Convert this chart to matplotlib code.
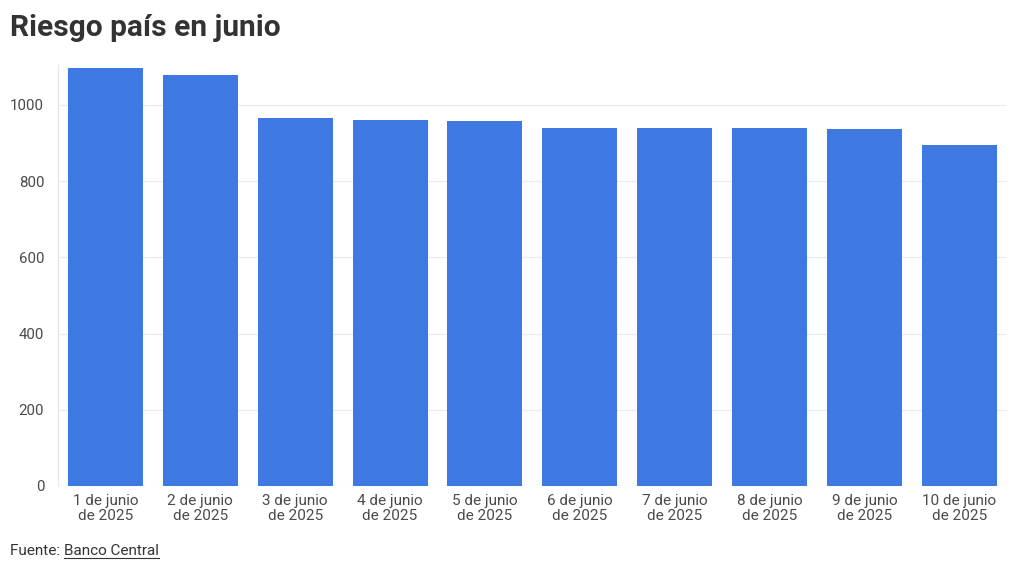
# Riesgo país en junio - bar chart
import matplotlib
matplotlib.use('Agg')
import matplotlib.pyplot as plt
from matplotlib.lines import Line2D

# Data
dates = ['1 de junio\nde 2025', '2 de junio\nde 2025', '3 de junio\nde 2025',
         '4 de junio\nde 2025', '5 de junio\nde 2025', '6 de junio\nde 2025',
         '7 de junio\nde 2025', '8 de junio\nde 2025', '9 de junio\nde 2025',
         '10 de junio\nde 2025']
riesgo = [1097, 1080, 966, 960, 958, 940, 940, 940, 936, 896]
yticks = [0, 200, 400, 600, 800, 1000]

plt.rcParams['font.family'] = ['Roboto', 'DejaVu Sans']

fig = plt.figure(figsize=(10.2, 5.7), dpi=100)
ax = fig.add_axes([0.0569, 0.1474, 0.9301, 0.7386])

x = range(len(riesgo))
ax.bar(x, riesgo, width=0.79, color='#3e78e2', zorder=2)

ax.set_xlim(-0.5, len(riesgo) - 0.5)
ax.set_ylim(0, 1105)
ax.set_yticks(yticks)
ax.set_xticks(list(x))
ax.set_xticklabels(dates, fontsize=11, color='#4a4a4a', linespacing=1.1)
ax.tick_params(axis='y', labelsize=10.8, labelcolor='#4a4a4a', length=0, pad=10)
ax.tick_params(axis='x', length=0, pad=6)

ax.grid(axis='y', color='#ececec', linewidth=0.9, zorder=0)
for side in ['top', 'right', 'bottom']:
    ax.spines[side].set_visible(False)
ax.spines['left'].set_color('#e6e6e6')
ax.spines['left'].set_linewidth(0.9)

# Title
fig.text(0.0098, 0.95, 'Riesgo país en junio', fontsize=21.5, fontweight='bold',
         color='#333333', va='center', ha='left')

# Source with underlined link text
t1 = fig.text(0.0098, 0.026, 'Fuente: ', fontsize=11, color='#333333',
              va='baseline', ha='left')
fig.canvas.draw()
renderer = fig.canvas.get_renderer()
bb = t1.get_window_extent(renderer).transformed(fig.transFigure.inverted())
t2 = fig.text(bb.x1, 0.026, 'Banco Central', fontsize=11, color='#333333',
              va='baseline', ha='left')
fig.canvas.draw()
bb2 = t2.get_window_extent(renderer).transformed(fig.transFigure.inverted())
fig.add_artist(Line2D([bb2.x0, bb2.x1], [0.021, 0.021], color='#333333',
                      linewidth=0.8, transform=fig.transFigure))

fig.savefig('out.png', dpi=100)
